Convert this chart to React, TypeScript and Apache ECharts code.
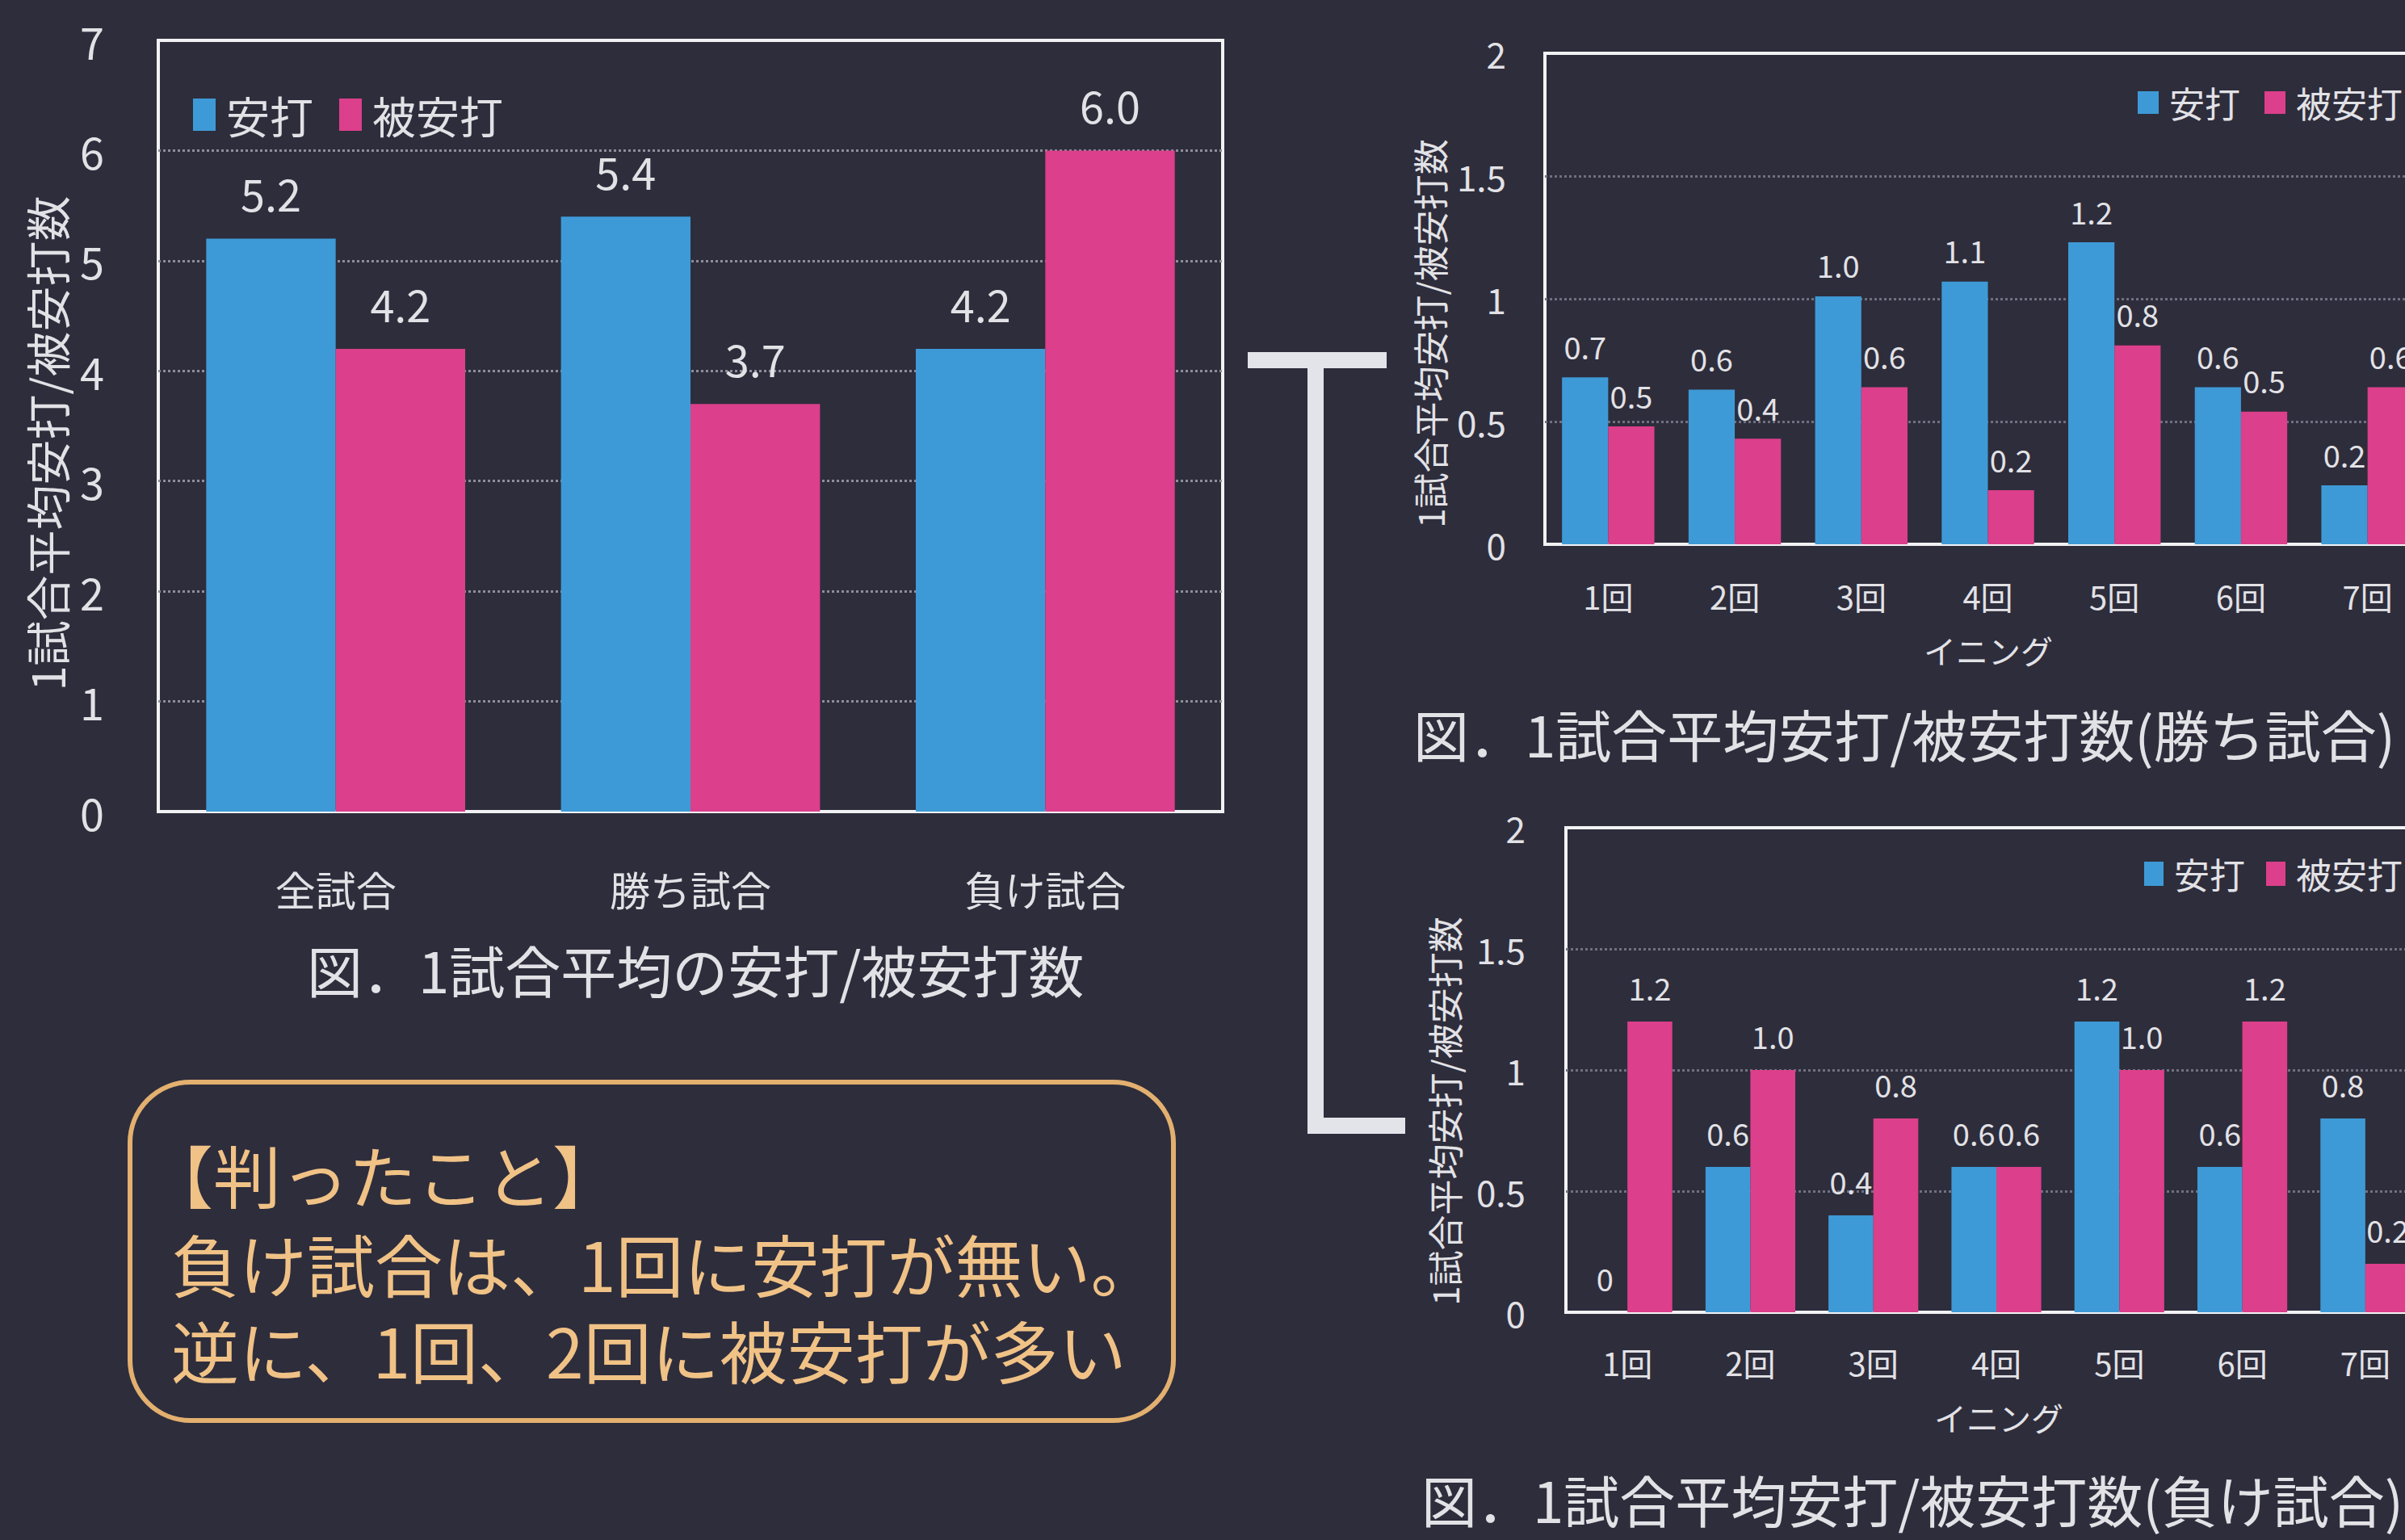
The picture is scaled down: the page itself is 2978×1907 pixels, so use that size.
import React, { useEffect, useRef } from "react";
import * as echarts from "echarts";

// ---------- data ----------
const summaryCategories = ["全試合", "勝ち試合", "負け試合"];
const summaryHits = [5.2, 5.4, 4.2];
const summaryAllowed = [4.2, 3.7, 6.0];

const innings = ["1回", "2回", "3回", "4回", "5回", "6回", "7回"];
const winHits = [0.68, 0.63, 1.01, 1.07, 1.23, 0.64, 0.24];
const winAllowed = [0.48, 0.43, 0.64, 0.22, 0.81, 0.54, 0.64];
const loseHits = [0, 0.6, 0.4, 0.6, 1.2, 0.6, 0.8];
const loseAllowed = [1.2, 1.0, 0.8, 0.6, 1.0, 1.2, 0.2];

const seriesNames = ["安打", "被安打"];
const yAxisTitle = "1試合平均安打/被安打数";
const xAxisTitle = "イニング";
const captionSummary = "図．1試合平均の安打/被安打数";
const captionWin = "図．1試合平均安打/被安打数(勝ち試合)";
const captionLose = "図．1試合平均安打/被安打数(負け試合)";
const noteLines = ["【判ったこと】", "負け試合は、1回に安打が無い。", "逆に、1回、2回に被安打が多い"];

// ---------- style ----------
const BG = "#2e2d3c";
const BLUE = "#3e9ad6";
const PINK = "#dc3f8b";
const TXT = "#e2e2e6";
const FONT = '"Noto Sans CJK JP", "Noto Sans", sans-serif';
const NOTE = "#f0c286";

const fmt = (v: number) => (v === 0 ? "0" : v.toFixed(1));

function barSeries(name: string, data: number[], color: string, idx: number, fs: number, dist: number) {
  return {
    type: "bar",
    name,
    xAxisIndex: idx,
    yAxisIndex: idx,
    data,
    barGap: "0%",
    barCategoryGap: "27%",
    itemStyle: { color },
    label: {
      show: true,
      position: "top",
      distance: dist,
      fontSize: fs,
      fontFamily: FONT,
      color: TXT,
      formatter: (p: any) => fmt(p.value),
    },
  };
}

function gridBox(left: number, top: number, width: number, height: number) {
  return {
    left,
    top,
    width,
    height,
    show: true,
    borderColor: "#f2f2f4",
    borderWidth: 4,
    backgroundColor: "transparent",
    outerBoundsMode: "none",
    containLabel: false,
  };
}

function catAxis(idx: number, data: string[], fs: number, margin: number) {
  return {
    gridIndex: idx,
    type: "category",
    data,
    axisTick: { show: false },
    axisLine: { show: true, lineStyle: { color: "#f2f2f4", width: 4 } },
    axisLabel: { margin, fontSize: fs, color: TXT, fontFamily: FONT, interval: 0 },
  };
}

function valAxis(idx: number, max: number, interval: number, fs: number, margin: number, gridColor: string) {
  return {
    gridIndex: idx,
    type: "value",
    min: 0,
    max,
    interval,
    axisLine: { show: false },
    axisTick: { show: false },
    axisLabel: { margin, fontSize: fs, color: TXT, fontFamily: FONT },
    splitLine: {
      show: true,
      showMinLine: false,
      showMaxLine: false,
      lineStyle: { type: "dotted", color: gridColor, width: 3 },
    },
  };
}

function legend(left: number, top: number, fs: number, iw: number, ih: number, gap: number) {
  return {
    left,
    top,
    width: 900,
    orient: "horizontal",
    icon: "rect",
    itemWidth: iw,
    itemHeight: ih,
    itemGap: gap,
    data: seriesNames,
    textStyle: { fontSize: fs, color: TXT, fontFamily: FONT, padding: [0, 0, 0, 8] },
  };
}

function text(x: number, y: number, t: string, fs: number, fill: string, align = "left", rotation = 0) {
  return {
    type: "text",
    x,
    y,
    rotation,
    style: { text: t, fontSize: fs, fontFamily: FONT, fill, align, verticalAlign: "middle" },
  };
}

export default function App() {
  const ref = useRef<HTMLDivElement>(null);

  useEffect(() => {
    if (!ref.current) return;
    const chart = echarts.init(ref.current, null, { renderer: "svg" });
    const option: any = {
      animation: false,
      backgroundColor: BG,
      grid: [gridBox(196, 50, 1318, 955), gridBox(1913, 66, 1097, 608), gridBox(1939, 1025, 1066, 600)],
      xAxis: [catAxis(0, summaryCategories, 50, 70), catAxis(1, innings, 40, 44), catAxis(2, innings, 40, 42)],
      yAxis: [
        valAxis(0, 7, 1, 54, 67, "#8e8e9a"),
        valAxis(1, 2, 0.5, 44, 48, "#707080"),
        valAxis(2, 2, 0.5, 44, 50, "#707080"),
      ],
      legend: [
        legend(234, 110, 54, 28, 40, 32),
        legend(2642, 100, 44, 26, 28, 30),
        legend(2650, 1055, 44, 24, 30, 26),
      ],
      series: [
        barSeries(seriesNames[0], summaryHits, BLUE, 0, 54, 30),
        barSeries(seriesNames[1], summaryAllowed, PINK, 0, 54, 30),
        barSeries(seriesNames[0], winHits, BLUE, 1, 38, 20),
        barSeries(seriesNames[1], winAllowed, PINK, 1, 38, 20),
        barSeries(seriesNames[0], loseHits, BLUE, 2, 38, 24),
        barSeries(seriesNames[1], loseAllowed, PINK, 2, 38, 24),
      ],
      graphic: {
        elements: [
          text(56, 549, yAxisTitle, 56, TXT, "center", Math.PI / 2),
          text(1770, 413, yAxisTitle, 44, TXT, "center", Math.PI / 2),
          text(1788, 1376, yAxisTitle, 44, TXT, "center", Math.PI / 2),
          text(2462, 805, xAxisTitle, 40, TXT, "center"),
          text(2475, 1755, xAxisTitle, 40, TXT, "center"),
          text(380, 1200, captionSummary, 69, TXT, "left"),
          text(1750, 908, captionWin, 69, TXT, "left"),
          text(1760, 1856, captionLose, 69, TXT, "left"),
          {
            type: "line",
            shape: { x1: 1545, y1: 446, x2: 1717, y2: 446 },
            style: { stroke: "#e2e4ea", lineWidth: 20 },
          },
          {
            type: "polyline",
            shape: { points: [[1629, 446], [1629, 1394], [1740, 1394]] },
            style: { stroke: "#e2e4ea", lineWidth: 20, fill: "none", lineJoin: "miter" },
          },
          {
            type: "rect",
            shape: { x: 161, y: 1340, width: 1292, height: 419, r: 75 },
            style: { fill: "none", stroke: "#e3b06f", lineWidth: 6 },
          },
          text(180, 1453, noteLines[0], 84, NOTE, "left"),
          text(212, 1563, noteLines[1], 84, NOTE, "left"),
          text(212, 1670, noteLines[2], 84, NOTE, "left"),
        ],
      },
    };
    chart.setOption(option);
    return () => chart.dispose();
  }, []);

  return (
    <div
      ref={ref}
      style={{ position: "fixed", left: 0, top: 0, width: "2978px", height: "1907px", overflow: "hidden" }}
    />
  );
}
